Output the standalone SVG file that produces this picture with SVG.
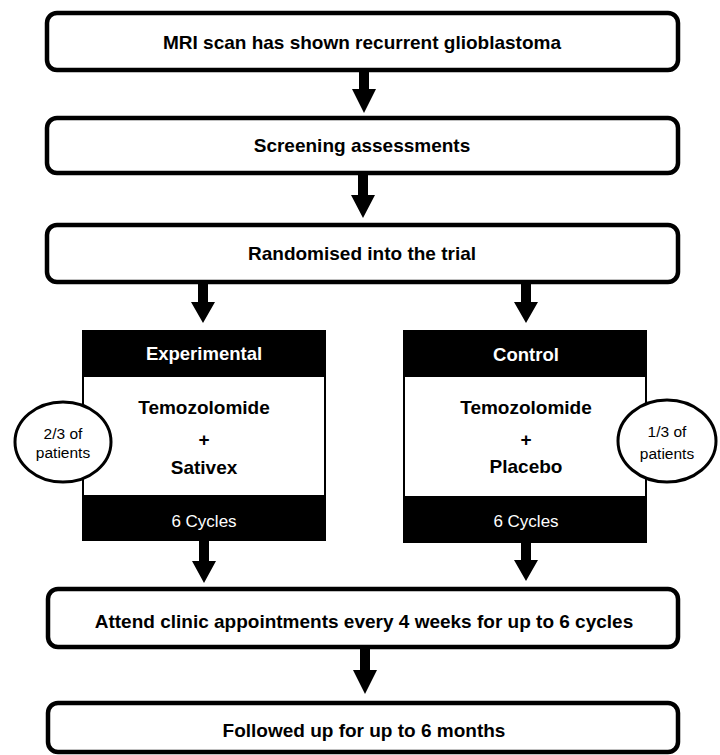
<svg xmlns="http://www.w3.org/2000/svg" width="720" height="755" viewBox="0 0 720 755">
<defs>
<style>
.box{fill:#fff;stroke:#000;stroke-width:4.5}
.t{font-family:"Liberation Sans",Arial,sans-serif;font-weight:bold;font-size:19px;fill:#000;text-anchor:middle}
.w{font-family:"Liberation Sans",Arial,sans-serif;font-weight:bold;font-size:18.5px;fill:#fff;text-anchor:middle}
.wn{font-family:"Liberation Sans",Arial,sans-serif;font-size:17px;fill:#fff;text-anchor:middle}
.n{font-family:"Liberation Sans",Arial,sans-serif;font-size:15.5px;fill:#000;text-anchor:middle}
.ell{fill:#fff;stroke:#000;stroke-width:3}
.arr{fill:#000}
</style>
</defs>
<rect width="720" height="755" fill="#fff"/>
<g id="connectors">
<polygon class="arr" points="359,69 369,69 369,89 376,89 364,113 352,89 359,89"/>
<polygon class="arr" points="358,173 368,173 368,195 375,195 363,218 351,195 358,195"/>
<polygon class="arr" points="198,280 208,280 208,302 215,302 203,323 191,302 198,302"/>
<polygon class="arr" points="521,280 531,280 531,302 538,302 526,323 514,302 521,302"/>
<polygon class="arr" points="199,540 209,540 209,561 216,561 204,583 192,561 199,561"/>
<polygon class="arr" points="521,542 531,542 531,560 538,560 526,581 514,560 521,560"/>
<polygon class="arr" points="360,646 370,646 370,670 377,670 365,694 353,670 360,670"/>
</g>
<g id="mri">
<rect class="box" x="47" y="13" width="631" height="57" rx="10"/>
<text class="t" x="362" y="49">MRI scan has shown recurrent glioblastoma</text>
</g>
<g id="screening">
<rect class="box" x="47" y="118" width="631" height="55" rx="10"/>
<text class="t" x="362" y="152">Screening assessments</text>
</g>
<g id="randomised">
<rect class="box" x="47" y="225" width="631" height="57" rx="10"/>
<text class="t" x="362" y="260">Randomised into the trial</text>
</g>
<g id="experimental">
<rect x="82" y="330" width="244" height="211" fill="#000"/>
<rect x="84" y="377" width="240" height="118" fill="#fff"/>
<text class="w" x="204" y="360">Experimental</text>
<text class="t" x="204" y="414">Temozolomide</text>
<text class="t" x="204" y="446">+</text>
<text class="t" x="204" y="474">Sativex</text>
<text class="wn" x="204" y="527">6 Cycles</text>
</g>
<g id="ratio-experimental">
<ellipse class="ell" cx="63" cy="442" rx="48" ry="40"/>
<text class="n" x="63" y="439">2/3 of</text>
<text class="n" x="63" y="458">patients</text>
</g>
<g id="control">
<rect x="403" y="330" width="244" height="213" fill="#000"/>
<rect x="405" y="377" width="240" height="119" fill="#fff"/>
<text class="w" x="526" y="361">Control</text>
<text class="t" x="526" y="414">Temozolomide</text>
<text class="t" x="526" y="446">+</text>
<text class="t" x="526" y="473">Placebo</text>
<text class="wn" x="526" y="527">6 Cycles</text>
</g>
<g id="ratio-control">
<ellipse class="ell" cx="667" cy="441" rx="49" ry="41"/>
<text class="n" x="667" y="437">1/3 of</text>
<text class="n" x="667" y="459">patients</text>
</g>
<g id="attend">
<rect class="box" x="48" y="589" width="630" height="58" rx="10"/>
<text class="t" x="364" y="628">Attend clinic appointments every 4 weeks for up to 6 cycles</text>
</g>
<g id="followup">
<rect class="box" x="48" y="703" width="630" height="49" rx="10"/>
<text class="t" x="364" y="737">Followed up for up to 6 months</text>
</g>
</svg>
